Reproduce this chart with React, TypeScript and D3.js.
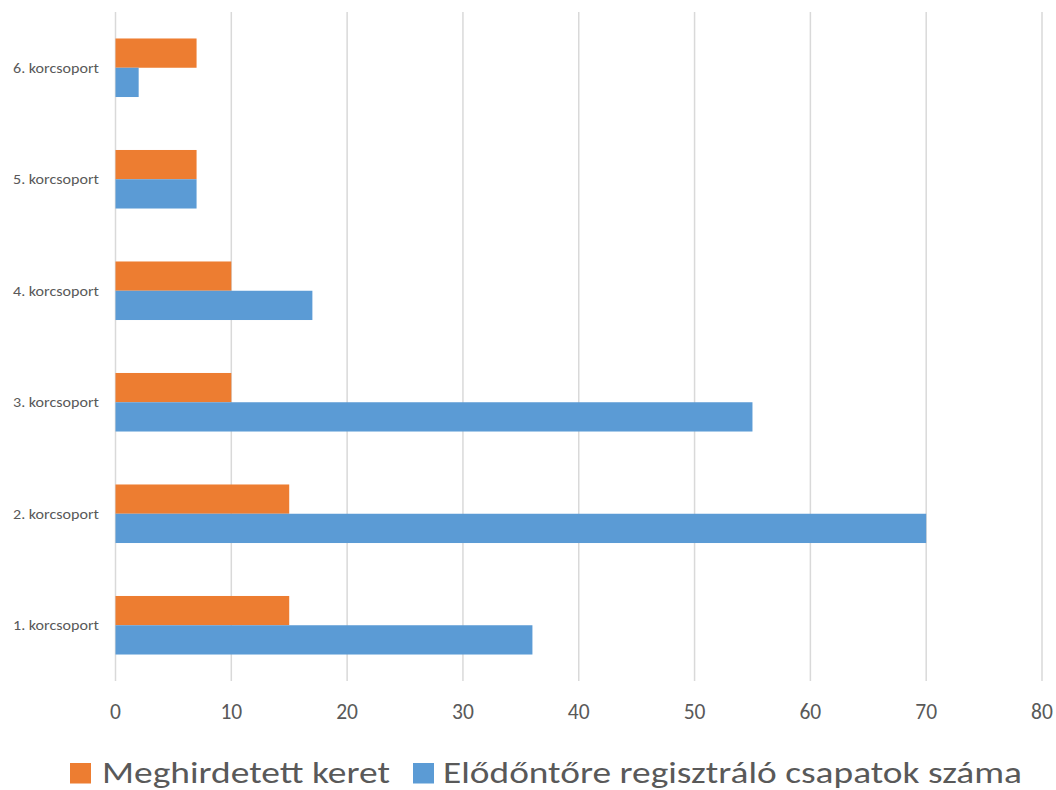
import React from "react";
import * as d3 from "d3";

const categories = ["1. korcsoport", "2. korcsoport", "3. korcsoport", "4. korcsoport", "5. korcsoport", "6. korcsoport"];
const keretValues = [15, 15, 10, 10, 7, 7];
const csapatValues = [36, 70, 55, 17, 7, 2];
const xTicks = [0, 10, 20, 30, 40, 50, 60, 70, 80];
const seriesNames = ["Meghirdetett keret", "Előd\u0151ntőre regisztráló csapatok száma"];

const ORANGE = "#ED7D31";
const BLUE = "#5B9BD5";
const FONT = "Carlito, Calibri, Lato, 'Liberation Sans', Arial, sans-serif";

export default function App() {
  const W = 1056, H = 790;
  const x = d3.scaleLinear().domain([0, 80]).range([115.5, 1042]);
  const y = d3.scaleBand<string>().domain([...categories].reverse()).range([12, 681]).paddingInner(0.475).paddingOuter(0.2375);
  const sub = d3.scaleBand<string>().domain(["keret", "csapat"]).range([0, y.bandwidth()]);

  const series = [
    { key: "keret", values: keretValues, color: ORANGE },
    { key: "csapat", values: csapatValues, color: BLUE },
  ];

  return (
    <svg width={W} height={H} style={{ display: "block", position: "absolute", left: 0, top: 0, background: "#fff" }}>
      <rect x={0} y={0} width={W} height={H} fill="#fff" />
      {xTicks.map((t) => (
        <line key={"g" + t} x1={x(t)} x2={x(t)} y1={12} y2={681} stroke="#D9D9D9" strokeWidth={1.5} />
      ))}
      {series.map((s) =>
        categories.map((c, i) => (
          <rect
            key={s.key + c}
            x={x(0)}
            y={(y(c) as number) + (sub(s.key) as number)}
            width={x(s.values[i]) - x(0)}
            height={sub.bandwidth()}
            fill={s.color}
          />
        ))
      )}
      {categories.map((c) => (
        <text key={"l" + c} x={99} y={(y(c) as number) + y.bandwidth() / 2} dy="0.35em" textAnchor="end" fontFamily={FONT} fontSize={14.5} fill="#595959" textLength={86} lengthAdjust="spacingAndGlyphs">
          {c}
        </text>
      ))}
      {xTicks.map((t) => (
        <text key={"t" + t} x={x(t)} y={719} textAnchor="middle" fontFamily={FONT} fontSize={21.5} fill="#595959">
          {t}
        </text>
      ))}
      <rect x={70} y={763} width={21} height={20.5} fill={ORANGE} />
      <text x={102} y={782.5} fontFamily={FONT} fontSize={31.5} fill="#595959" textLength={288} lengthAdjust="spacingAndGlyphs">
        {seriesNames[0]}
      </text>
      <rect x={413} y={763} width={21} height={20.5} fill={BLUE} />
      <text x={443} y={782.5} fontFamily={FONT} fontSize={31.5} fill="#595959" textLength={579} lengthAdjust="spacingAndGlyphs">
        {seriesNames[1]}
      </text>
    </svg>
  );
}
